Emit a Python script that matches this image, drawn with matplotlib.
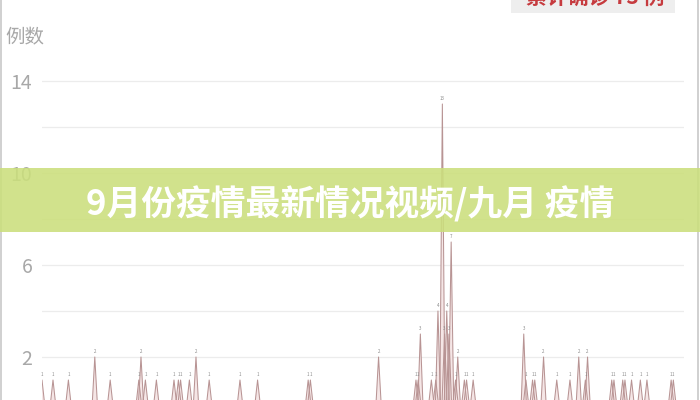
import numpy as np
import matplotlib
matplotlib.use("Agg")
import matplotlib.pyplot as plt
from matplotlib.patches import Rectangle
from matplotlib.lines import Line2D

plt.rcParams['font.family'] = ['Noto Sans CJK SC', 'DejaVu Sans']

# index of each reported spike and number of cases
spike_idx = [0, 5, 12, 24, 31, 44, 45, 47, 52, 60, 62, 63, 67, 70, 76, 90, 98,
             121, 122, 153, 170, 171, 172, 177, 179, 180, 182, 183, 184, 185,
             186, 188, 189, 192, 193, 196, 219, 220, 223, 224, 228, 234, 240,
             244, 247, 248, 259, 260, 264, 265, 268, 272, 275, 286, 287]
spike_cases = [1, 1, 1, 2, 1, 1, 2, 1, 1, 1, 1, 1, 1, 2, 1, 1, 1,
               1, 1, 2, 1, 1, 3, 1, 1, 4, 13, 3, 4, 3,
               7, 1, 2, 1, 1, 1, 3, 1, 1, 1, 2, 1, 1,
               2, 1, 2, 1, 1, 1, 1, 1, 1, 1, 1, 1]
n_points = 292

y_ticks = [2, 6, 10, 14]
grid_vals = [2, 4, 6, 8, 10, 12, 14]
banner_title = "9月份疫情最新情况视频/九月 疫情"
top_note = "累计确诊 73 例"

half_w = 1.15  # spike half width in index units

fig = plt.figure(figsize=(7, 4), dpi=100)
ax = fig.add_axes([0.06, -0.0075, 0.917, 0.8625])

for g in grid_vals:
    ax.axhline(g, color='#ececec', lw=0.9, zorder=0)

# each case count drawn as a narrow spike
for i, v in zip(spike_idx, spike_cases):
    sx = [i - half_w, i, i + half_w]
    sy = [0, v, 0]
    ax.fill(sx, sy, color='#f5e6e6', lw=0, zorder=1)
    ax.plot(sx, sy, color='#b89494', lw=0.75, zorder=2)
    ax.text(i, v + 0.15, str(v), fontsize=3.2, color='#8a8a8a',
            ha='center', va='bottom', zorder=3)

ax.set_xlim(0, n_points - 0.2)
ax.set_ylim(0, 15)
ax.set_yticks(y_ticks)
ax.set_yticklabels([str(t) for t in y_ticks], fontsize=14, color='#a8a8a8',
                   fontweight='light')
ax.tick_params(axis='y', length=0, pad=7)
ax.set_xticks([])
for s in ax.spines.values():
    s.set_visible(False)

fig.text(5 / 700, 1 - 38 / 400, "例数", fontsize=14, color='#a8a8a8',
         ha='left', va='center', fontweight='light')

# top-right note, cut off by the screenshot edge
fig.add_artist(Rectangle((511 / 700, 1 - 13 / 400), 164 / 700, 13 / 400,
                         transform=fig.transFigure, color='#eeeeee', lw=0, zorder=4))
fig.text(595 / 700, 1.005, top_note, fontsize=15, color='#c63b3f',
         fontweight='bold', ha='center', va='center', zorder=5)

# screenshot frame
fig.add_artist(Line2D([1 / 700, 1 / 700], [0, 1], transform=fig.transFigure,
                      color='#c8c8c8', lw=1.2))
fig.add_artist(Line2D([698 / 700, 698 / 700], [0, 1], transform=fig.transFigure,
                      color='#c8c8c8', lw=1.2))

# green banner with title
fig.add_artist(Rectangle((0, 1 - 232 / 400), 1, 64 / 400, transform=fig.transFigure,
                         color='#cbdf7c', alpha=0.88, lw=0, zorder=6))
fig.text(0.5, 1 - 204 / 400, banner_title, fontsize=25, color='white',
         fontweight='bold', ha='center', va='center', zorder=7)

fig.savefig("out.png", dpi=100)
